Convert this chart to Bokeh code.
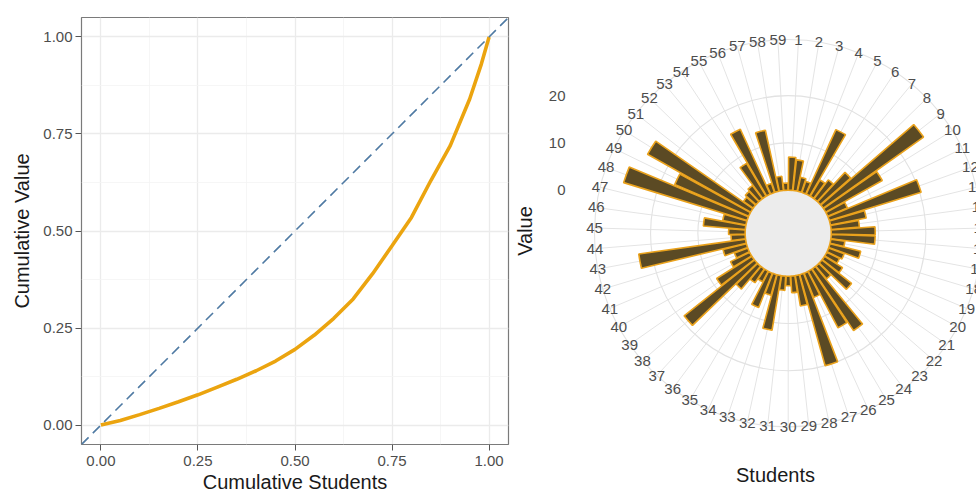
import numpy as np
from bokeh.plotting import figure
from bokeh.models import Range1d, FixedTicker, Slope, CustomJSTickFormatter, NumeralTickFormatter, ColumnDataSource
from bokeh.layouts import row
from bokeh.embed import file_html
from bokeh.resources import INLINE
from bokeh.core.properties import value

# ---------------- data ----------------
students = list(range(1, 60))
student_labels = [str(s) for s in students]
values = [7.0, 6.5, 3.0, 2.5, 15.0, 4.0, 5.0, 8.5, 26.0, 13.7,
          4.5, 20.3, 7.7, 6.0, 9.3, 9.3, 3.0, 6.7, 3.5, 3.0,
          4.5, 8.0, 3.5, 15.7, 13.5, 5.5, 20.0, 6.5, 3.5, 2.0,
          3.0, 11.7, 4.5, 7.8, 2.5, 3.5, 6.3, 19.0, 8.8, 4.5,
          3.0, 5.1, 22.8, 3.0, 3.5, 8.9, 5.0, 27.3, 17.0, 25.0,
          2.5, 3.0, 3.5, 8.1, 15.1, 2.0, 13.2, 3.0, 1.5]

lorenz_x = [0.0, 0.05, 0.10, 0.15, 0.20, 0.25, 0.30, 0.35, 0.40, 0.45, 0.50,
            0.55, 0.60, 0.65, 0.70, 0.75, 0.80, 0.85, 0.90, 0.95, 0.98, 1.0]
lorenz_y = [0.0, 0.012, 0.027, 0.043, 0.060, 0.078, 0.098, 0.118, 0.140, 0.165, 0.195,
            0.232, 0.275, 0.325, 0.390, 0.462, 0.535, 0.630, 0.720, 0.840, 0.930, 1.0]

lorenz_ticks = [0.0, 0.25, 0.5, 0.75, 1.0]
lorenz_minor = [0.125, 0.375, 0.625, 0.875]
r_ticks = [0, 10, 20]

# ---------------- styles ----------------
FONT = "Liberation Sans"
TXT = "#4d4d4d"
TITLE = "#1a1a1a"
FH = 427          # common frame height
TOP, BOT = 17, 50

# ---------------- left: Lorenz curve ----------------
p1 = figure(frame_width=427, frame_height=FH,
            x_range=Range1d(-0.05, 1.05), y_range=Range1d(-0.05, 1.05),
            output_backend="svg", toolbar_location=None,
            min_border_left=81, min_border_right=2, min_border_top=TOP, min_border_bottom=BOT)
p1.outline_line_color = "#7a7a7a"
p1.outline_line_width = 1.2
p1.xaxis.axis_label = "Cumulative Students"
p1.yaxis.axis_label = "Cumulative Value"
for ax in (p1.xaxis[0], p1.yaxis[0]):
    ax.ticker = FixedTicker(ticks=lorenz_ticks, minor_ticks=lorenz_minor)
    ax.formatter = NumeralTickFormatter(format="0.00")
    ax.axis_line_color = None
    ax.major_tick_line_color = "#555555"
    ax.major_tick_out = 6
    ax.major_tick_in = 0
    ax.minor_tick_line_color = None
    ax.major_label_standoff = 3
    ax.major_label_text_font = FONT
    ax.major_label_text_font_size = "15px"
    ax.major_label_text_color = TXT
    ax.axis_label_text_font = FONT
    ax.axis_label_text_font_size = "20px"
    ax.axis_label_text_font_style = "normal"
    ax.axis_label_text_color = TITLE
p1.yaxis.axis_label_standoff = 7
p1.xaxis.major_label_standoff = 5
p1.xaxis.axis_label_standoff = 2
p1.grid.grid_line_color = "#ebebeb"
p1.grid.grid_line_width = 1.3
p1.grid.minor_grid_line_color = "#f4f4f4"
p1.grid.minor_grid_line_width = 0.8

p1.line(lorenz_x, lorenz_y, line_color="#eba40f", line_width=3.6)
p1.add_layout(Slope(gradient=1, y_intercept=0, line_color="#4f7aa3", line_width=1.6, line_dash="10 6"))

# ---------------- right: polar bar chart ----------------
PX = 4.73          # pixels per value unit
HOLE = 9.1         # radial offset of value 0 (inner hole)
OUTER_R = 40.95    # radius of outer grid circle / labels
FW2 = 404
BL = 62
CX, CY = 214.7, 215.7   # centre inside frame (px from frame left / top)

p2 = figure(frame_width=FW2, frame_height=FH,
            x_range=Range1d(-CX / PX, (FW2 - CX) / PX),
            y_range=Range1d(-(FH - CY) / PX, CY / PX),
            output_backend="svg", toolbar_location=None,
            min_border_left=BL, min_border_right=0, min_border_top=TOP, min_border_bottom=BOT)
p2.outline_line_color = None
p2.grid.visible = False

n = len(students)
slot = 2 * np.pi / n
theta = (np.array(students) - 0.5) * slot          # clockwise from top
phi = np.pi / 2 - theta                             # math angle
half = 0.45 * slot

# grid
p2.segment(x0=np.zeros(n), y0=np.zeros(n), x1=OUTER_R * np.sin(theta), y1=OUTER_R * np.cos(theta),
           line_color="#e4e4e4", line_width=1)
ring_r = [HOLE + t for t in r_ticks] + [OUTER_R]
p2.circle(x=[0] * len(ring_r), y=[0] * len(ring_r), radius=ring_r,
          fill_color=None, line_color="#e2e2e2", line_width=1.1)
p2.circle(x=[0], y=[0], radius=[HOLE], fill_color="#ececec", line_color=None)

# bars
src = ColumnDataSource(dict(
    inner=[HOLE] * n,
    outer=[HOLE + v for v in values],
    start=phi - half,
    end=phi + half,
))
p2.annular_wedge(x=0, y=0, inner_radius="inner", outer_radius="outer",
                 start_angle="start", end_angle="end", source=src,
                 fill_color="#5b4a24", line_color="#eaa21c", line_width=1.6)

# theta labels
p2.text(x=OUTER_R * np.sin(theta), y=OUTER_R * np.cos(theta), text=student_labels,
        text_font=value(FONT), text_font_size="15px", text_color=TXT,
        text_align="center", text_baseline="middle")

ya = p2.yaxis[0]
ya.ticker = FixedTicker(ticks=[HOLE + t for t in r_ticks])
ya.formatter = CustomJSTickFormatter(args=dict(off=HOLE), code="return Math.round(tick - off).toString();")
ya.axis_label = "Value"
xa = p2.xaxis[0]
xa.ticker = FixedTicker(ticks=[])
xa.axis_label = "Students"
for ax in (xa, ya):
    ax.axis_line_color = None
    ax.major_tick_line_color = None
    ax.minor_tick_line_color = None
    ax.major_tick_out = 0
    ax.major_tick_in = 0
    ax.major_label_text_font = FONT
    ax.major_label_text_font_size = "15px"
    ax.major_label_text_color = TXT
    ax.axis_label_text_font = FONT
    ax.axis_label_text_font_size = "20px"
    ax.axis_label_text_font_style = "normal"
    ax.axis_label_text_color = TITLE
xa.major_label_text_font_size = "1px"
ya.major_label_standoff = 8
ya.axis_label_standoff = 10
xa.major_label_standoff = 0
xa.axis_label_standoff = 19

layout = row(p1, p2)
open("out.html", "w").write(file_html(layout, INLINE))
